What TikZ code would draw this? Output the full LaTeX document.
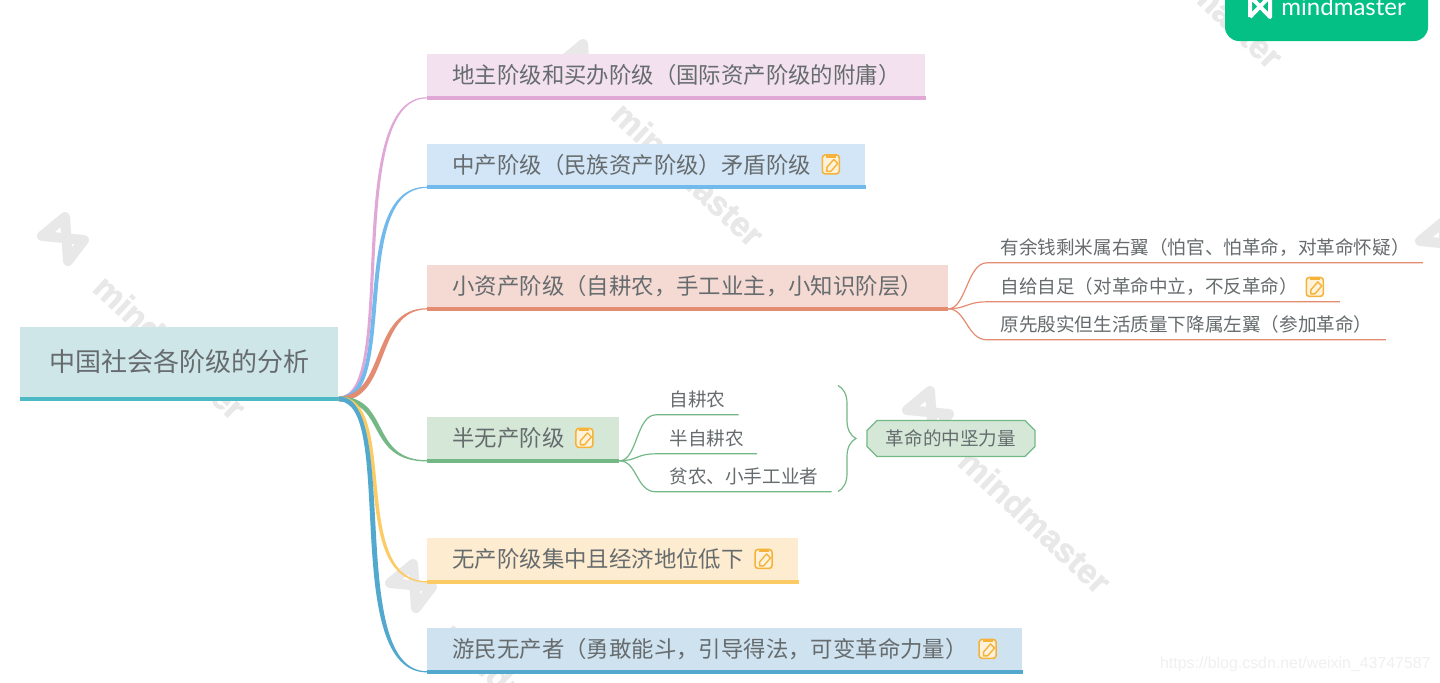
\documentclass[tikz,border=0pt]{standalone}
\usepackage{fontspec}
\setmainfont{Noto Sans CJK SC}
\newfontfamily\wmfont[BoldFeatures={FakeBold=1.5}]{Liberation Sans}
\newfontfamily\logofont{Lato}
\usetikzlibrary{shapes.misc,decorations.pathreplacing}
\definecolor{textgrey}{HTML}{666C6E}
\definecolor{wmgrey}{HTML}{E8E8E8}
\definecolor{notecol}{HTML}{F5B33C}
\definecolor{notefill}{HTML}{FEF3DA}
\definecolor{logogreen}{HTML}{04C084}
\definecolor{rootfill}{HTML}{CFE6E9}\definecolor{rootbar}{HTML}{4DB9C4}
\definecolor{dizhufill}{HTML}{F3E1F0}\definecolor{dizhubar}{HTML}{E0A8D6}
\definecolor{zhongfill}{HTML}{D3E6F8}\definecolor{zhongbar}{HTML}{72B9EC}
\definecolor{xiaofill}{HTML}{F5DAD4}\definecolor{xiaobar}{HTML}{E48C72}
\definecolor{banfill}{HTML}{D5E8D8}\definecolor{banbar}{HTML}{74B886}
\definecolor{wufill}{HTML}{FEECD0}\definecolor{wubar}{HTML}{FCCB64}
\definecolor{youfill}{HTML}{CFE2EF}\definecolor{youbar}{HTML}{52A8CD}
\tikzset{
  rootbox/.style={anchor=north west, fill=rootfill, text=textgrey, font=\fontsize{13}{15}\selectfont,
    inner xsep=14.5pt, inner ysep=0pt, minimum height=36.5pt, text height=11.4pt, text depth=3.6pt},
  mainbox/.style={anchor=north west, text=textgrey, font=\fontsize{11.2}{13}\selectfont,
    inner xsep=12.5pt, inner ysep=0pt, minimum height=22.5pt, text height=9.9pt, text depth=2.9pt},
  leafbox/.style={anchor=north west, text=textgrey, font=\fontsize{9.3}{11}\selectfont,
    inner xsep=6.5pt, inner ysep=0pt, minimum height=14.5pt, text height=8.2pt, text depth=1.3pt},
  barline/.style={line width=2pt},
  leafline/.style={line width=.6pt},
  pics/noteicon/.style={code={
    \draw[rounded corners=1.5pt, draw=notecol, fill=notefill, line width=.8pt] (-8.5,-9.5) rectangle (8.5,9.5);
    \fill[notecol] (-5,-9.5) rectangle (5,-6.5);
    \draw[notecol, line width=.7pt, line join=round] (-4,7) -- (-4,3) -- (3,-5) -- (7,-1) -- (0,7) -- cycle;
  }}
}
% root branch, thick at the root and thin at the far end
\newcommand{\taper}[6]{%
  \fill[#3] ([yshift=2.2pt]#1) .. controls +({#4-#6},0) and +({-#5-#6},0) .. ([yshift=1.3pt]#2)
    -- ([yshift=.7pt]#2) .. controls +({-#5+#6},0) and +({#4+#6},0) .. ([yshift=-.2pt]#1) -- cycle;
}
\begin{document}
\begin{tikzpicture}[x=0.5pt,y=-0.5pt]
  \useasboundingbox (0,0) rectangle (1440,682);
  \clip (0,0) rectangle (1440,682);
  \fill[white] (0,0) rectangle (1440,682);

  % watermarks
  \foreach \i/\x/\y in {1/62/213,2/580/40,3/927/387,4/410/560,5/1099/-138,6/1440/218}{
    \draw[wmgrey, line width=5pt, line join=round] (\x+3,\y+4) -- ++(-23,19) -- ++(42,4) -- ++(-16,21) -- cycle;
    \node[text=wmgrey, rotate=-43, font=\wmfont\fontsize{17}{17}\selectfont\bfseries] (wm\i) at (\x+108,\y+134) {mindmaster};
  }
  \node[text=black!6, anchor=east, inner sep=0pt, font=\wmfont\fontsize{7.95}{10}\selectfont] (csdn) at (1431,664) {https://blog.csdn.net/weixin\_43747587};

  % logo
  \node[fill=logogreen, rounded corners=7pt, minimum width=101.5pt, minimum height=31pt, inner sep=0pt] (logo) at (1326.5,10) {};
  \node[text=white, anchor=west, inner sep=0pt, font=\logofont\fontsize{12}{14}\selectfont] (logotext) at (1281,7) {mindmaster};
  \draw[white, line width=2pt, line join=round] (1250,17) -- (1250,-4) -- (1270,17) -- (1270,-4) -- (1250,17);

  % boxes
  \node[rootbox] (root) at (20,327) {中国社会各阶级的分析};
  \node[mainbox, fill=dizhufill] (dizhu) at (427,54) {地主阶级和买办阶级（国际资产阶级的附庸）};
  \node[mainbox, fill=zhongfill] (zhong) at (427,143.5) {中产阶级（民族资产阶级）矛盾阶级\hspace*{14.8pt}};
  \node[mainbox, fill=xiaofill] (xiao) at (427,265) {小资产阶级（自耕农，手工业主，小知识阶层）};
  \node[mainbox, fill=banfill] (ban) at (427,417) {半无产阶级\hspace*{14.8pt}};
  \node[mainbox, fill=wufill] (wu) at (427,538) {无产阶级集中且经济地位低下\hspace*{14.8pt}};
  \node[mainbox, fill=youfill] (you) at (427,628) {游民无产者（勇敢能斗，引导得法，可变革命力量）\hspace*{14.8pt}};
  \foreach \n/\c in {root/rootbar,dizhu/dizhubar,zhong/zhongbar,xiao/xiaobar,ban/banbar,wu/wubar,you/youbar}
    \draw[barline, \c] ([yshift=1pt]\n.south west) -- ([yshift=1pt]\n.south east);
  \foreach \n in {zhong,ban,wu,you}
    \pic at ([xshift=-17.5pt,yshift=1pt]\n.east) {noteicon};

  % branches from the root
  \taper{root.south east}{dizhu.south west}{dizhubar}{60}{85}{2}
  \taper{root.south east}{zhong.south west}{zhongbar}{60}{80}{2.5}
  \taper{root.south east}{xiao.south west}{xiaobar}{50}{55}{2.5}
  \taper{root.south east}{ban.south west}{banbar}{50}{60}{-2.2}
  \taper{root.south east}{wu.south west}{wubar}{60}{80}{-2.2}
  \taper{root.south east}{you.south west}{youbar}{60}{85}{-3.2}

  % leaves of the small bourgeoisie
  \node[leafbox] (youyu) at (987,233) {有余钱剩米属右翼（怕官、怕革命，对革命怀疑）};
  \node[leafbox] (zigei) at (987,272) {自给自足（对革命中立，不反革命）\hspace*{14.2pt}};
  \node[leafbox] (yuanxian) at (987,310) {原先殷实但生活质量下降属左翼（参加革命）};
  \pic at ([xshift=-12.5pt]zigei.east) {noteicon};
  \foreach \n in {youyu,zigei,yuanxian}
    \draw[leafline, xiaobar] ([yshift=1pt]xiao.south east) .. controls +(18,0) and +(-20,0) .. (\n.south west) -- (\n.south east);

  % leaves of the semi-proletariat
  \node[leafbox] (zigeng) at (656,385) {自耕农};
  \node[leafbox] (banzi) at (656,424) {半自耕农};
  \node[leafbox] (pinnong) at (656,462) {贫农、小手工业者};
  \foreach \n in {zigeng,banzi,pinnong}
    \draw[leafline, banbar] ([yshift=1pt]ban.south east) .. controls +(18,0) and +(-20,0) .. (\n.south west) -- (\n.south east);

  % brace and what it sums up
  \coordinate (bracetop) at (838,385.5);
  \coordinate (bracebot) at (838,491.5);
  \draw[leafline, banbar, decorate, decoration={brace, amplitude=9pt, raise=0pt}] (bracetop) -- (bracebot);
  \node[chamfered rectangle, chamfered rectangle xsep=2.5pt, chamfered rectangle ysep=2.5pt,
    draw=banbar, fill=banfill, line width=.6pt, text=textgrey, font=\fontsize{9.3}{11}\selectfont,
    inner sep=0pt, minimum width=84pt, minimum height=18pt, text height=8.2pt, text depth=1.3pt] (zhongjian) at (951,438.5) {革命的中坚力量};
\end{tikzpicture}
\end{document}
